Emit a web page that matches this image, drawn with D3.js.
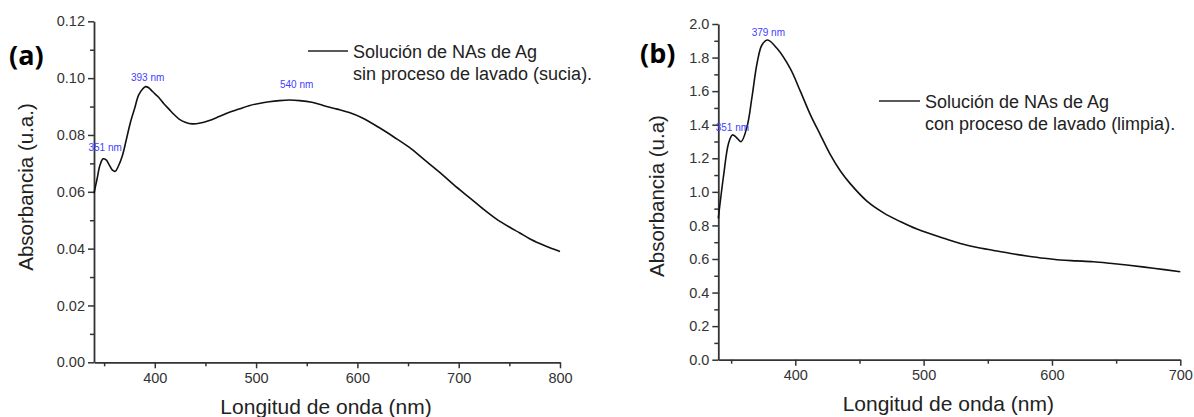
<!DOCTYPE html>
<html>
<head>
<meta charset="utf-8">
<script src="https://cdn.jsdelivr.net/npm/d3@7"></script>
<style>
  html, body { margin: 0; padding: 0; background: #fff; }
  svg { display: block; font-family: "Liberation Sans", Arial, sans-serif; }
</style>
</head>
<body>
<svg id="chart" width="1194" height="417"></svg>
<script>
// ---------- Panel (a) data ----------
const aWavelength = [340,343,346,349,352,355,358,361,364,368,372,376,380,384,388,391,394,398,404,409,414,419,424,430,437,445,453,463,473,483,493,503,513,523,533,543,555,567,580,592,605,621,636,651,666,681,695,710,723,737,750,760,770,780,790,800];
const aAbsorbance = [0.0595,0.0645,0.0695,0.0716,0.0712,0.0695,0.0677,0.0672,0.0690,0.0727,0.0785,0.0845,0.0892,0.0940,0.0962,0.0970,0.0966,0.0952,0.0932,0.0910,0.0891,0.0872,0.0856,0.0845,0.0839,0.0842,0.0850,0.0864,0.0879,0.0891,0.0903,0.0911,0.0917,0.0921,0.0923,0.0921,0.0915,0.0903,0.0891,0.0879,0.0860,0.0827,0.0793,0.0757,0.0713,0.0669,0.0625,0.0581,0.0543,0.0505,0.0476,0.0456,0.0435,0.0418,0.0403,0.0390];
const aXTicks = [400,500,600,700,800];
const aXMinor = [350,450,550,650,750];
const aYTicks = [0.00,0.02,0.04,0.06,0.08,0.10,0.12];
const aYMinor = [0.01,0.03,0.05,0.07,0.09,0.11];
const aPeakLabels = ["351 nm","393 nm","540 nm"];
const aPeakNm = [351,393,540];
const aPeakAbs = [0.0745,0.0990,0.0965];
const aLegend = ["Solución de NAs de Ag","sin proceso de lavado (sucia)."];

// ---------- Panel (b) data ----------
const bWavelength = [340,344,348,351,354,357.7,362.4,366.3,370.2,374,378.4,385.7,396,403.9,411.7,419.5,427.3,435,442.8,455.8,468.8,481.8,494.8,518,528.5,541,554.5,567,580.5,594,606.4,619,632.3,645,658.3,679,700];
const bAbsorbance = [0.842,1.090,1.290,1.339,1.325,1.299,1.388,1.567,1.766,1.875,1.905,1.855,1.735,1.600,1.460,1.340,1.222,1.126,1.049,0.945,0.875,0.823,0.778,0.717,0.692,0.670,0.651,0.634,0.618,0.604,0.594,0.589,0.584,0.575,0.564,0.545,0.524];
const bXTicks = [400,500,600,700];
const bXMinor = [350,450,550,650];
const bYTicks = [0.0,0.2,0.4,0.6,0.8,1.0,1.2,1.4,1.6,1.8,2.0];
const bYMinor = [0.1,0.3,0.5,0.7,0.9,1.1,1.3,1.5,1.7,1.9];
const bPeakLabels = ["351 nm","379 nm"];
const bPeakNm = [351,379];
const bPeakAbs = [1.36,1.93];
const bLegend = ["Solución de NAs de Ag","con proceso de lavado (limpia)."];

const xTitle = "Longitud de onda (nm)";
const aYTitle = "Absorbancia (u.a.)";
const bYTitle = "Absorbancia (u.a)";

const svg = d3.select("#chart");
const AXIS = "#333";

function panel(cfg) {
  const g = svg.append("g");
  const x = d3.scaleLinear().domain(cfg.xDomain).range([cfg.left, cfg.right]);
  const y = d3.scaleLinear().domain(cfg.yDomain).range([cfg.bottom, cfg.top]);

  // minor ticks
  g.append("g").attr("transform", `translate(0,${cfg.bottom})`)
    .call(d3.axisBottom(x).tickValues(cfg.xMinor).tickSize(4).tickFormat(""))
    .call(s => s.select(".domain").remove());
  g.append("g").attr("transform", `translate(${cfg.left},0)`)
    .call(d3.axisLeft(y).tickValues(cfg.yMinor).tickSize(4).tickFormat(""))
    .call(s => s.select(".domain").remove());

  // major axes
  g.append("g").attr("transform", `translate(0,${cfg.bottom})`)
    .call(d3.axisBottom(x).tickValues(cfg.xTicks).tickSize(6).tickSizeOuter(0).tickPadding(4).tickFormat(d3.format("d")));
  g.append("g").attr("transform", `translate(${cfg.left},0)`)
    .call(d3.axisLeft(y).tickValues(cfg.yTicks).tickSize(6).tickSizeOuter(0).tickPadding(3).tickFormat(d3.format(cfg.yFmt)));

  g.selectAll(".tick line").attr("stroke", AXIS).attr("stroke-width", 1.5);
  g.selectAll(".domain").attr("stroke", AXIS).attr("stroke-width", 1.8);
  g.selectAll(".tick text").attr("fill", "#333").style("font-size", "14.5px").style("font-family", "'Liberation Sans', Arial, sans-serif");

  // curve
  const line = d3.line().x((d, i) => x(cfg.xs[i])).y((d, i) => y(cfg.ys[i])).curve(d3.curveCatmullRom.alpha(0.5));
  g.append("path").datum(cfg.ys).attr("d", line)
    .attr("fill", "none").attr("stroke", "#111").attr("stroke-width", 1.6);

  // peak annotations
  cfg.peakLabels.forEach((t, i) => {
    g.append("text").attr("x", x(cfg.peakNm[i])).attr("y", y(cfg.peakAbs[i]))
      .attr("text-anchor", "middle").attr("fill", "#4040ff")
      .style("font-size", "10px").text(t);
  });

  // legend
  g.append("line").attr("x1", cfg.legX).attr("x2", cfg.legX + cfg.legLen)
    .attr("y1", cfg.legY).attr("y2", cfg.legY).attr("stroke", "#222").attr("stroke-width", 1.5);
  cfg.legend.forEach((t, i) => {
    g.append("text").attr("x", cfg.legX + cfg.legLen + 5).attr("y", cfg.legY + 6.5 + i * 22)
      .attr("fill", "#222").style("font-size", "18px").text(t);
  });

  // titles
  g.append("text").attr("x", (cfg.left + cfg.right) / 2 - 1).attr("y", cfg.xTitleY)
    .attr("text-anchor", "middle").attr("fill", "#222").style("font-size", "21px").text(xTitle);
  g.append("text").attr("transform", `translate(${cfg.yTitleX},${cfg.yTitleCY}) rotate(-90)`)
    .attr("text-anchor", "middle").attr("fill", "#222").style("font-size", "20.5px").text(cfg.yTitle);

  // panel letter
  g.append("text").attr("x", cfg.letterX).attr("y", cfg.letterY)
    .attr("fill", "#000").style("font-size", "27px").style("font-weight", "bold")
    .style("font-family", "'Open Sans', 'Liberation Sans', sans-serif").text(cfg.letter);
}

panel({
  xDomain: [340, 800], yDomain: [0, 0.12],
  left: 94, right: 560, top: 21.3, bottom: 362.3,
  xTicks: aXTicks, xMinor: aXMinor, yTicks: aYTicks, yMinor: aYMinor, yFmt: ".2f",
  xs: aWavelength, ys: aAbsorbance,
  peakLabels: aPeakLabels, peakNm: aPeakNm, peakAbs: aPeakAbs,
  legend: aLegend, legX: 308, legLen: 40, legY: 51,
  xTitleY: 414, yTitleX: 33, yTitleCY: 187, yTitle: aYTitle,
  letter: "(a)", letterX: 9, letterY: 65
});

panel({
  xDomain: [340, 700], yDomain: [0, 2.0],
  left: 718.3, right: 1180.3, top: 24, bottom: 359.7,
  xTicks: bXTicks, xMinor: bXMinor, yTicks: bYTicks, yMinor: bYMinor, yFmt: ".1f",
  xs: bWavelength, ys: bAbsorbance,
  peakLabels: bPeakLabels, peakNm: bPeakNm, peakAbs: bPeakAbs,
  legend: bLegend, legX: 879, legLen: 41, legY: 101,
  xTitleY: 411, yTitleX: 664, yTitleCY: 196, yTitle: bYTitle,
  letter: "(b)", letterX: 640, letterY: 63
});
</script>
</body>
</html>
